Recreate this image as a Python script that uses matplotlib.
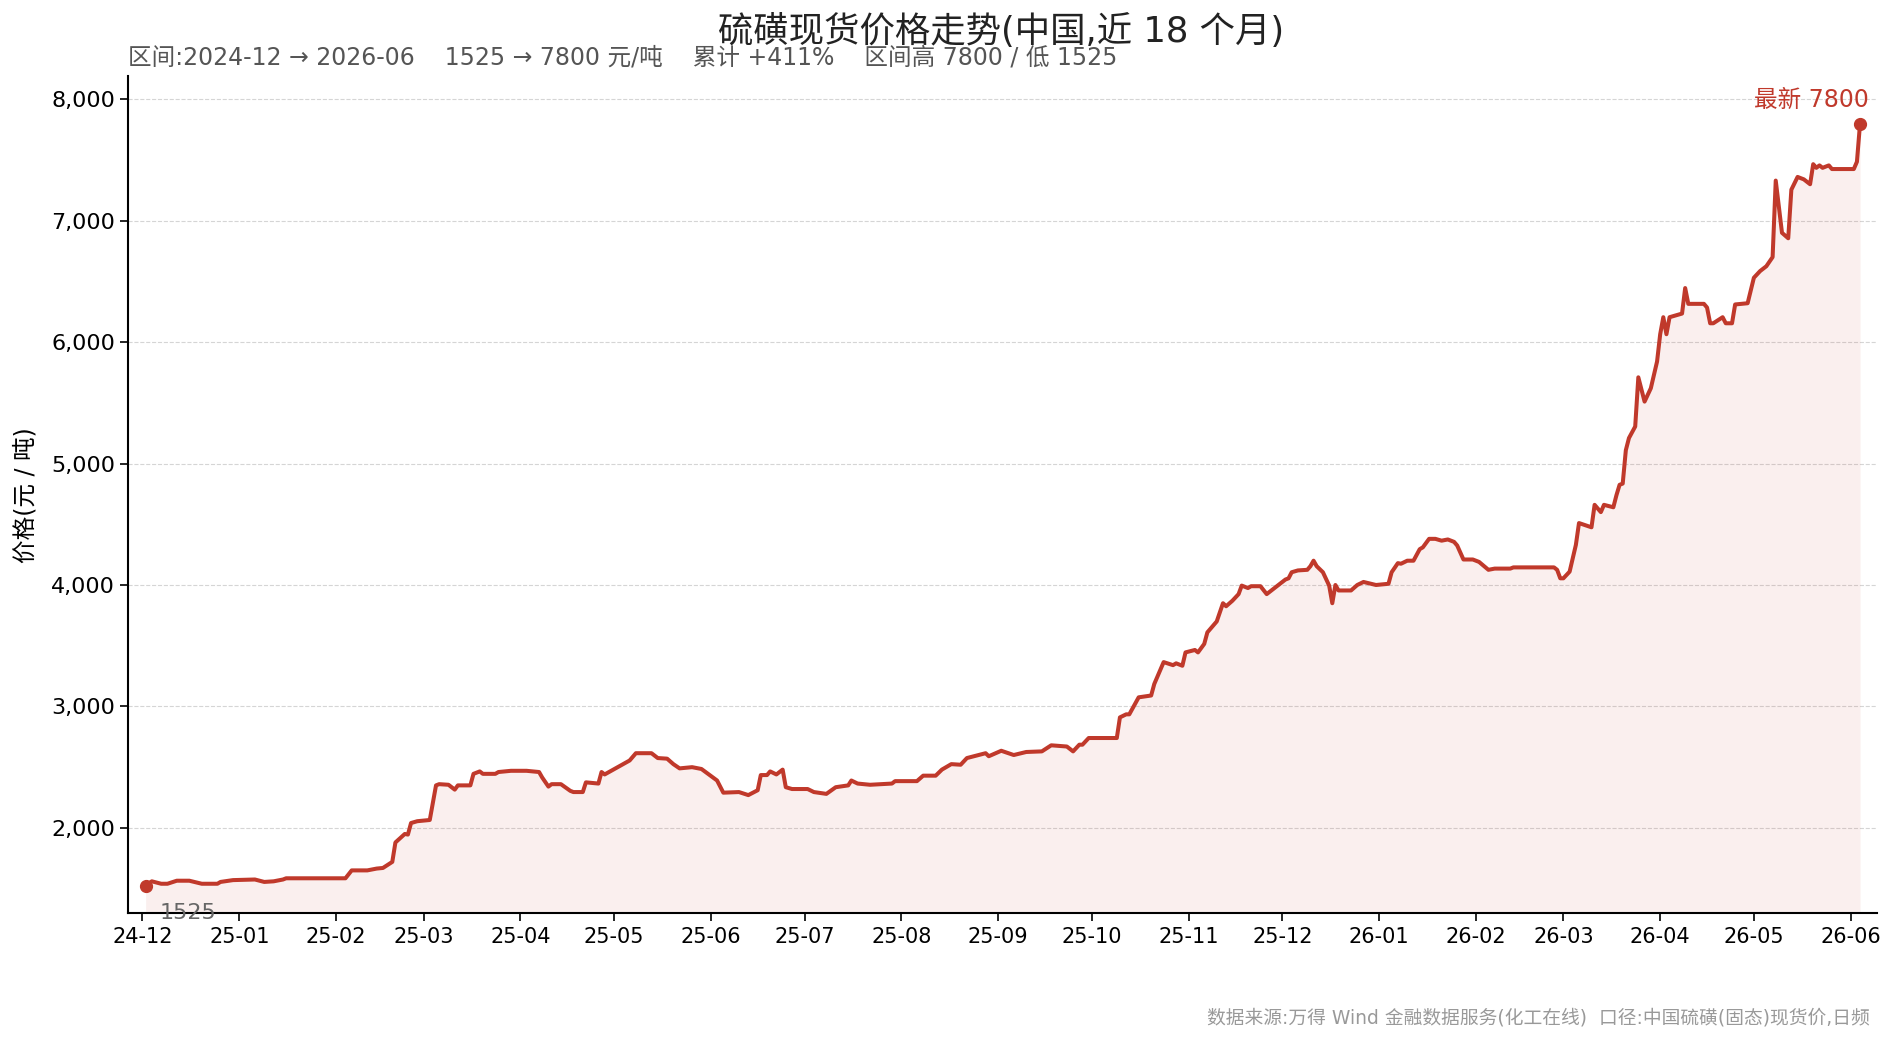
import matplotlib
matplotlib.use('Agg')
import matplotlib.pyplot as plt
import matplotlib.dates as mdates
from matplotlib.ticker import FuncFormatter
import pandas as pd

plt.rcParams['font.family'] = ['DejaVu Sans', 'Noto Sans CJK SC']

RED = '#c0392b'

title = '硫磺现货价格走势(中国,近 18 个月)'
subtitle = '区间:2024-12 → 2026-06    1525 → 7800 元/吨    累计 +411%    区间高 7800 / 低 1525'
ylabel = '价格(元 / 吨)'
source = '数据来源:万得 Wind 金融数据服务(化工在线)  口径:中国硫磺(固态)现货价,日频'
latest_label = '最新 7800'
first_label = '1525'

# price knots (元/吨)
dates = [
    '2024-12-02', '2024-12-04', '2024-12-07', '2024-12-09', '2024-12-12', '2024-12-16',
    '2024-12-20', '2024-12-25', '2024-12-26', '2024-12-30',
    '2025-01-06', '2025-01-09', '2025-01-12', '2025-01-15', '2025-01-16', '2025-01-21',
    '2025-02-04', '2025-02-06', '2025-02-11', '2025-02-14', '2025-02-16', '2025-02-19',
    '2025-02-20', '2025-02-23', '2025-02-24', '2025-02-25', '2025-02-27',
    '2025-03-03', '2025-03-05', '2025-03-06', '2025-03-09', '2025-03-11', '2025-03-12',
    '2025-03-16', '2025-03-17', '2025-03-19', '2025-03-20', '2025-03-24', '2025-03-25',
    '2025-03-29',
    '2025-04-03', '2025-04-07', '2025-04-08', '2025-04-10', '2025-04-11', '2025-04-14',
    '2025-04-17', '2025-04-18', '2025-04-21', '2025-04-22', '2025-04-26', '2025-04-27',
    '2025-04-28',
    '2025-05-06', '2025-05-08', '2025-05-13', '2025-05-15', '2025-05-18', '2025-05-20',
    '2025-05-22', '2025-05-26', '2025-05-29',
    '2025-06-03', '2025-06-05', '2025-06-10', '2025-06-13', '2025-06-16', '2025-06-17',
    '2025-06-19', '2025-06-20', '2025-06-22', '2025-06-24', '2025-06-25', '2025-06-27',
    '2025-07-02', '2025-07-04', '2025-07-08', '2025-07-11', '2025-07-15', '2025-07-16',
    '2025-07-18', '2025-07-22', '2025-07-29', '2025-07-30',
    '2025-08-06', '2025-08-08', '2025-08-12', '2025-08-14', '2025-08-17', '2025-08-20',
    '2025-08-22', '2025-08-28', '2025-08-29',
    '2025-09-02', '2025-09-06', '2025-09-10', '2025-09-15', '2025-09-18', '2025-09-23',
    '2025-09-25', '2025-09-27', '2025-09-28', '2025-09-30',
    '2025-10-09', '2025-10-10', '2025-10-12', '2025-10-13', '2025-10-16', '2025-10-20',
    '2025-10-21', '2025-10-24', '2025-10-27', '2025-10-28', '2025-10-30', '2025-10-31',
    '2025-11-03', '2025-11-04', '2025-11-06', '2025-11-07', '2025-11-10', '2025-11-12',
    '2025-11-13', '2025-11-15', '2025-11-17', '2025-11-18', '2025-11-20', '2025-11-21',
    '2025-11-24', '2025-11-26', '2025-11-28',
    '2025-12-02', '2025-12-03', '2025-12-04', '2025-12-06', '2025-12-09', '2025-12-10',
    '2025-12-11', '2025-12-12', '2025-12-14', '2025-12-15', '2025-12-16', '2025-12-17',
    '2025-12-18', '2025-12-19', '2025-12-23', '2025-12-25', '2025-12-27', '2025-12-31',
    '2026-01-04', '2026-01-05', '2026-01-07', '2026-01-08', '2026-01-10', '2026-01-12',
    '2026-01-14', '2026-01-15', '2026-01-17', '2026-01-19', '2026-01-21', '2026-01-23',
    '2026-01-25', '2026-01-26', '2026-01-28', '2026-01-31',
    '2026-02-02', '2026-02-05', '2026-02-07', '2026-02-12', '2026-02-13', '2026-02-26',
    '2026-02-27', '2026-02-28',
    '2026-03-01', '2026-03-03', '2026-03-05', '2026-03-06', '2026-03-10', '2026-03-11',
    '2026-03-13', '2026-03-14', '2026-03-17', '2026-03-18', '2026-03-19', '2026-03-20',
    '2026-03-21', '2026-03-22', '2026-03-24', '2026-03-25', '2026-03-27', '2026-03-29',
    '2026-03-31',
    '2026-04-01', '2026-04-02', '2026-04-03', '2026-04-04', '2026-04-08', '2026-04-09',
    '2026-04-10', '2026-04-15', '2026-04-16', '2026-04-17', '2026-04-18', '2026-04-21',
    '2026-04-22', '2026-04-24', '2026-04-25', '2026-04-29',
    '2026-05-01', '2026-05-03', '2026-05-05', '2026-05-07', '2026-05-08', '2026-05-10',
    '2026-05-12', '2026-05-13', '2026-05-15', '2026-05-17', '2026-05-19', '2026-05-20',
    '2026-05-21', '2026-05-22', '2026-05-23', '2026-05-25', '2026-05-26',
    '2026-06-02', '2026-06-03', '2026-06-04',
]
prices = [
    1525, 1560, 1540, 1540, 1565, 1565,
    1540, 1540, 1555, 1570,
    1575, 1555, 1560, 1575, 1585, 1585,
    1585, 1650, 1650, 1665, 1670, 1720,
    1880, 1950, 1945, 2040, 2055,
    2065, 2350, 2360, 2355, 2315, 2350,
    2350, 2445, 2465, 2445, 2445, 2460,
    2470,
    2470, 2460, 2415, 2340, 2360, 2360,
    2305, 2295, 2295, 2375, 2365, 2460,
    2440,
    2555, 2615, 2615, 2575, 2570, 2525,
    2490, 2500, 2485,
    2390, 2290, 2295, 2270, 2310, 2435,
    2435, 2465, 2440, 2480, 2335, 2320,
    2320, 2295, 2280, 2335, 2350, 2390,
    2365, 2355, 2365, 2385,
    2385, 2430, 2430, 2480, 2525, 2520,
    2575, 2615, 2590,
    2635, 2600, 2625, 2630, 2680, 2670,
    2630, 2685, 2685, 2740,
    2740, 2910, 2935, 2935, 3075, 3090,
    3185, 3365, 3340, 3355, 3335, 3445,
    3465, 3445, 3515, 3610, 3700, 3850,
    3825, 3870, 3925, 3995, 3975, 3990,
    3990, 3925, 3965,
    4045, 4055, 4105, 4120, 4125, 4155,
    4200, 4155, 4105, 4050, 3995, 3850,
    4000, 3955, 3955, 4000, 4025, 4000,
    4010, 4105, 4180, 4175, 4200, 4200,
    4295, 4310, 4380, 4380, 4365, 4375,
    4355, 4325, 4210, 4210,
    4190, 4125, 4135, 4135, 4145, 4145,
    4125, 4055,
    4055, 4110, 4330, 4510, 4475, 4660,
    4600, 4660, 4640, 4740, 4825, 4835,
    5110, 5210, 5305, 5710, 5510, 5620,
    5840,
    6065, 6205, 6065, 6205, 6235, 6445,
    6315, 6315, 6285, 6155, 6155, 6205,
    6155, 6155, 6310, 6320,
    6530, 6585, 6625, 6700, 7330, 6900,
    6855, 7255, 7360, 7340, 7300, 7465,
    7435, 7455, 7435, 7455, 7425,
    7425, 7485, 7800,
]

yticks = [2000, 3000, 4000, 5000, 6000, 7000, 8000]

x = pd.to_datetime(dates)
lo = min(prices) * 0.85
hi = max(prices) * 1.05

fig = plt.figure(figsize=(19, 10.43), dpi=100)
fig.subplots_adjust(left=0.0676, right=0.988, top=0.927, bottom=0.1243)
ax = fig.add_subplot(111)

ax.fill_between(x, prices, lo, color=RED, alpha=0.08, linewidth=0)
ax.plot(x, prices, color=RED, linewidth=2.9, solid_joinstyle='round')
ax.plot([x[0], x[-1]], [prices[0], prices[-1]], 'o', color=RED, markersize=8.5)

ax.annotate(first_label, (x[0], prices[0]), xytext=(10, -20), textcoords='offset points',
            ha='left', va='center', fontsize=16, color='#666666')
ax.annotate(latest_label, (x[-1], prices[-1]), xytext=(6, 17), textcoords='offset points',
            ha='right', va='center', fontsize=17, color=RED)

ax.set_ylim(lo, hi)
ax.margins(x=0.01)
ax.set_yticks(yticks)
ax.yaxis.set_major_formatter(FuncFormatter(lambda v, p: f'{v:,.0f}'))
ax.xaxis.set_major_locator(mdates.MonthLocator())
ax.xaxis.set_major_formatter(mdates.DateFormatter('%y-%m'))
ax.tick_params(length=6, width=1.2)
ax.tick_params(axis='x', labelsize=15)
ax.tick_params(axis='y', labelsize=16)

ax.grid(axis='y', linestyle='--', color='#d5d5d5', linewidth=0.8)
ax.set_axisbelow(True)
for s in ['top', 'right']:
    ax.spines[s].set_visible(False)
for s in ['left', 'bottom']:
    ax.spines[s].set_linewidth(1.5)

ax.set_ylabel(ylabel, fontsize=17)
ax.yaxis.set_label_coords(-0.052, 0.5)

fig.text(0.527, 0.970, title, ha='center', va='center', fontsize=25.5, color='#222222')
fig.text(0.0676, 0.945, subtitle, ha='left', va='center', fontsize=17, color='#555555')
fig.text(0.984, 0.024, source, ha='right', va='center', fontsize=13.5, color='#999999')

fig.savefig('out.png', dpi=100)
